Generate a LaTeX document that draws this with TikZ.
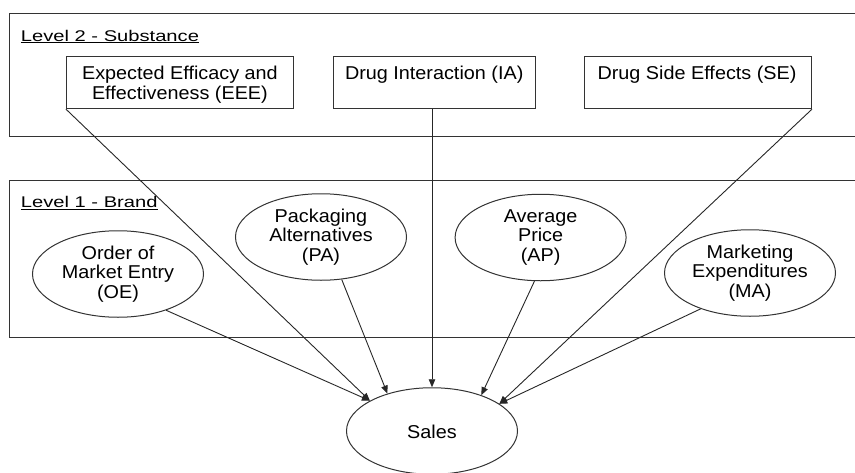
\documentclass[tikz,border=0pt]{standalone}
\usepackage{fontspec}
\setmainfont{Liberation Sans}
\newfontfamily\mainf[FakeStretch=1.065]{Liberation Sans}
\newfontfamily\lvlf[FakeStretch=1.3]{Liberation Sans}
\usetikzlibrary{shapes.geometric,arrows.meta}
\tikzset{
  frame/.style={draw=black!80, line width=1pt},
  boxnode/.style={draw=black!80, line width=1pt, rectangle, inner sep=0pt, minimum height=52pt},
  ellnode/.style={draw=black!80, line width=1pt, ellipse, inner sep=0pt, minimum width=171pt, minimum height=86.5pt},
  txt/.style={inner sep=0pt, align=center, font=\mainf\fontsize{18.6}{19.8}\selectfont},
  lvl/.style={inner sep=0pt, anchor=base west, font=\lvlf\fontsize{15.5}{18}\selectfont},
  arr/.style={draw=black!85, line width=0.9pt, -{Triangle[length=8pt,width=6.5pt]}}
}
\begin{document}
\begin{tikzpicture}[x=1pt,y=-1pt]
\useasboundingbox (0,0) rectangle (855,472);
\clip (0,0) rectangle (855,472);
% level frames
\draw[frame] (9.5,13.5) rectangle (875,136);
\draw[frame] (9.5,180) rectangle (875,337.5);
\node[lvl] (lvl2) at (20.7,41) {\underline{Level 2 - Substance}};
\node[lvl] (lvl1) at (20.7,207.5) {\underline{Level 1 - Brand}};
% level 2 boxes
\node[boxnode, minimum width=226.8pt] (eee) at (179.9,82.7) {};
\node[boxnode, minimum width=202.4pt] (ia) at (434.2,82.7) {};
\node[boxnode, minimum width=226.5pt] (se) at (698.2,82.7) {};
\node[txt, anchor=north] (eeet) at (179.9,65.6) {Expected Efficacy and\\Effectiveness (EEE)};
\node[txt, anchor=base] (iat) at (434.2,79) {Drug Interaction (IA)};
\node[txt, anchor=base] (set) at (697,79) {Drug Side Effects (SE)};
% level 1 ellipses
\node[ellnode] (oe) at (118,274) {};
\node[ellnode] (pa) at (321,237) {};
\node[ellnode] (ap) at (540.6,237.5) {};
\node[ellnode] (ma) at (750,273) {};
\node[txt] (oet) at (oe) {Order of\\Market Entry\\(OE)};
\node[txt] (pat) at (pa) {Packaging\\Alternatives\\(PA)};
\node[txt] (apt) at (ap) {Average\\Price\\(AP)};
\node[txt] (mat) at (ma) {Marketing\\Expenditures\\(MA)};
% sales
\node[ellnode] (sales) at (432,431) {};
\node[txt, anchor=base] (salest) at (432,438.3) {Sales};
% connectors
\draw[arr] (eee.south west) -- (sales.154.6);
\draw[arr] (oe.-37) -- (sales.154.6);
\draw[arr] (pa.-64) -- (sales.140.6);
\draw[arr] (sales.north |- ia.south) -- (sales.north);
\draw[arr] (ap.-98) -- (sales.36.5);
\draw[arr] (se.south east) -- (sales.22.4);
\draw[arr] (ma.-144) -- (sales.22.4);
\end{tikzpicture}
\end{document}
